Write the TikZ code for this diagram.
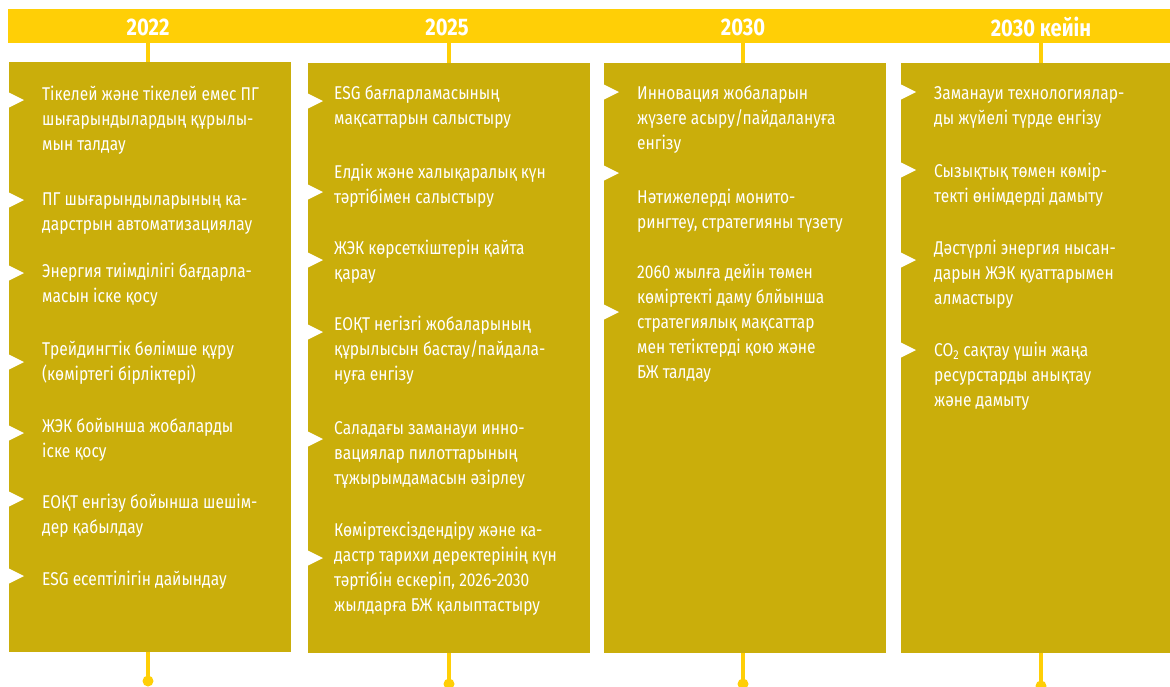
\documentclass[tikz,border=0pt]{standalone}
\usepackage{fontspec}
\setmainfont{Fira Sans}[FakeStretch=0.84]
\definecolor{barY}{RGB}{255,207,6}
\definecolor{boxY}{RGB}{202,174,11}
\tikzset{
  bar/.style={fill=barY, inner sep=0, anchor=north west, minimum width=1200pt, minimum height=34pt},
  box/.style={fill=boxY, inner sep=0, anchor=north west, minimum width=282pt, minimum height=590pt},
  year/.style={text=white, inner sep=0, font=\fontsize{24}{24}\selectfont\bfseries},
  item/.style={text=white, anchor=north west, align=left, inner sep=0, font=\fontsize{18.5}{25}\selectfont},
  conn/.style={draw=barY, line width=3.5pt},
  dot/.style={circle, fill=barY, inner sep=0, minimum size=11pt},
  tri/.pic={\fill[white] (0,-7.5) -- (15,0) -- (0,7.5) -- cycle;}
}
\newcommand{\st}{\rule{0pt}{19pt}}
\begin{document}
\begin{tikzpicture}[x=1pt,y=-1pt]
\useasboundingbox (0,0) rectangle (1170,686);
\clip (0,0) rectangle (1170,686);
% top bar
\node[bar] (bar) at (8,9) {};
% boxes
\node[box] (b1) at (9,62) {};
\node[box] (b2) at (308,63) {};
\node[box] (b3) at (604,63) {};
\node[box] (b4) at (901,63) {};
% years
\node[year] (y1) at (148,27) {2022};
\node[year] (y2) at (447,27) {2025};
\node[year] (y3) at (743,27) {2030};
\node[year] (y4) at (1041,27) {2030 кейін};
% connector x positions
\coordinate (c1) at (148,0);
\coordinate (c2) at (449,0);
\coordinate (c3) at (743,0);
\coordinate (c4) at (1041,0);
% dots
\node[dot] (d1) at (148,681) {};
\node[dot] (d2) at (449,684) {};
\node[dot] (d3) at (743,684) {};
\node[dot] (d4) at (1041,686) {};
\foreach \i in {1,2,3,4}{
  \draw[conn] (c\i |- bar.south) -- (c\i |- b\i.north);
  \draw[conn] (c\i |- b\i.south) -- (d\i.center);
}
% triangles
\foreach \y in {100,200,273,362,433,499,576} \pic at (9,\y) {tri};
\foreach \y in {101,192,260,332,439,558} \pic at (308,\y) {tri};
\foreach \y in {92,173,312} \pic at (604,\y) {tri};
\foreach \y in {92,170,260,350} \pic at (901,\y) {tri};
% column 1
\node[item] (a1) at (42,81) {\st Тікелей және тікелей емес ПГ\\шығарындылардың құрылы-\\мын талдау};
\node[item] (a2) at (42,186) {\st ПГ шығарындыларының ка-\\дарстрын автоматизациялау};
\node[item] (a3) at (42,258) {\st Энергия тиімділігі бағдарла-\\масын іске қосу};
\node[item] (a4) at (42,336) {\st Трейдингтік бөлімше құру\\(көміртегі бірліктері)};
\node[item] (a5) at (42,413) {\st ЖЭК бойынша жобаларды\\іске қосу};
\node[item] (a6) at (42,489) {\st ЕОҚТ енгізу бойынша шешім-\\дер қабылдау};
\node[item] (a7) at (42,566) {\st ESG есептілігін дайындау};
% column 2
\node[item] (e1) at (334,80) {\st ESG бағларламасының\\мақсаттарын салыстыру};
\node[item] (e2) at (334,159) {\st Елдік және халықаралық күн\\тәртібімен салыстыру};
\node[item] (e3) at (334,235) {\st ЖЭК көрсеткіштерін қайта\\қарау};
\node[item] (e4) at (334,311) {\st ЕОҚТ негізгі жобаларының\\құрылысын бастау/пайдала-\\нуға енгізу};
\node[item] (e5) at (334,415) {\st Саладағы заманауи инно-\\вациялар пилоттарының\\тұжырымдамасын әзірлеу};
\node[item] (e6) at (334,517) {\st Көміртексіздендіру және ка-\\дастр тарихи деректерінің күн\\тәртібін ескеріп, 2026-2030\\жылдарға БЖ қалыптастыру};
% column 3
\node[item] (i1) at (637,80) {\st Инновация жобаларын\\жүзеге асыру/пайдалануға\\енгізу};
\node[item] (i2) at (637,184) {\st Нәтижелерді монито-\\рингтеу, стратегияны түзету};
\node[item] (i3) at (637,259) {\st 2060 жылға дейін төмен\\көміртекті даму блйынша\\стратегиялық мақсаттар\\мен тетіктерді қою және\\БЖ талдау};
% column 4
\node[item] (o1) at (934,80) {\st Заманауи технологиялар-\\ды жүйелі түрде енгізу};
\node[item] (o2) at (934,158) {\st Сызықтық төмен көмір-\\текті өнімдерді дамыту};
\node[item] (o3) at (934,235) {\st Дәстүрлі энергия нысан-\\дарын ЖЭК қуаттарымен\\алмастыру};
\node[item] (o4) at (934,337) {\st СО\textsubscript{2} сақтау үшін жаңа\\ресурстарды анықтау\\және дамыту};
\end{tikzpicture}
\end{document}
